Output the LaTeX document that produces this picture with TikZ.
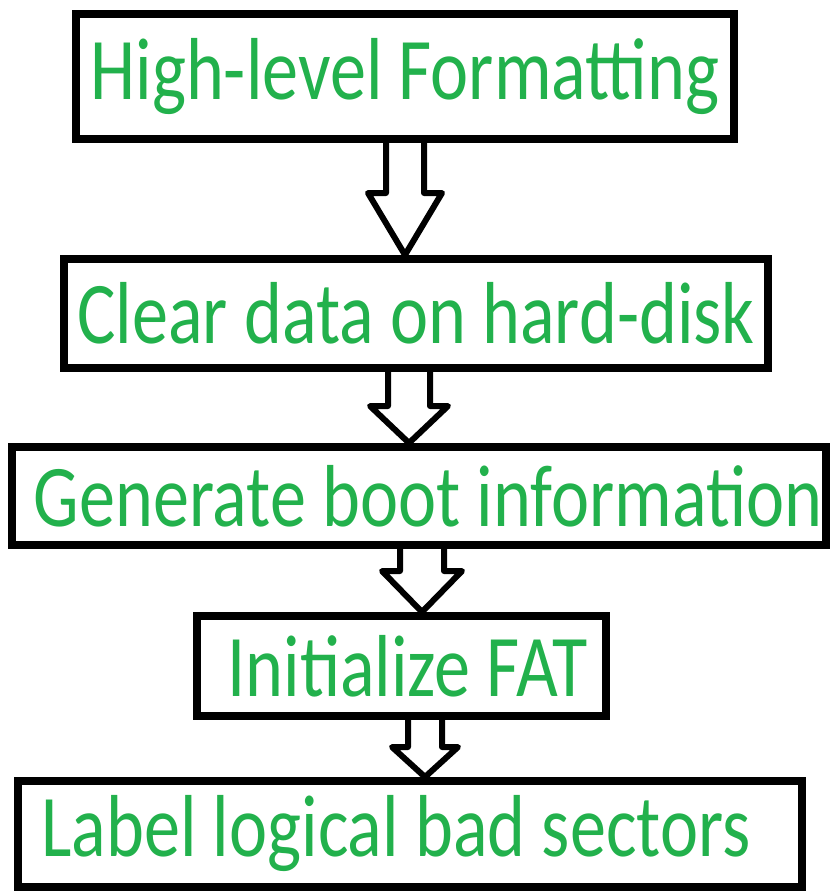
\documentclass[tikz,border=0pt]{standalone}
\usepackage{fontspec}
\setmainfont{Carlito}
\usepackage{xcolor}
\usetikzlibrary{calc}
\definecolor{paintgreen}{HTML}{22B14C}

\newcommand{\narrow}[1]{\scalebox{0.82}[1]{#1}}
% hollow block arrow: from, to, shaft half width, head half width, head length
\newcommand{\fatarrow}[5]{%
  \draw[fat] ($(#1)+(-#3,0)$) -- ($(#2)+(-#3,-#5)$) -- ($(#2)+(-#4,-#5)$) -- (#2)
    -- ($(#2)+(#4,-#5)$) -- ($(#2)+(#3,-#5)$) -- ($(#1)+(#3,0)$);}

\begin{document}
\begin{tikzpicture}[x=1pt, y=-1pt,
    main/.style = {draw, line width=8pt, rectangle, inner sep=0pt, text=paintgreen,
                   font=\fontsize{88}{96}\selectfont},
    fat/.style = {draw, line width=6pt, line join=round, fill=white}]
        \useasboundingbox (0,0) rectangle (840,894);

        \node[main, minimum width=658pt, minimum height=125pt] (1) at (405,76.5) {\narrow{High-level Formatting}};
        \node[main, minimum width=704pt, minimum height=109pt] (2) at (416,313.5) {\narrow{Clear data on hard-disk}};
        \node[main, minimum width=814pt, minimum height=98pt] (3) at (419,496) {\hspace*{18pt}\narrow{Generate boot information}};
        \node[main, minimum width=409pt, minimum height=100pt] (4) at (401.5,666) {\hspace*{12pt}\narrow{Initialize FAT}};
        \node[main, minimum width=784pt, minimum height=106pt] (5) at (410,834) {\narrow{Label logical bad sectors}\hspace*{28pt}};

        \coordinate (x1) at (405,0);
        \coordinate (x2) at (409,0);
        \coordinate (x3) at (422,0);
        \coordinate (x4) at (425,0);

        \fatarrow{1.south -| x1}{2.north -| x1}{19}{37}{62}
        \fatarrow{2.south -| x2}{3.north -| x2}{21}{39}{37}
        \fatarrow{3.south -| x3}{4.north -| x3}{22}{40}{41}
        \fatarrow{4.south -| x4}{5.north -| x4}{17}{33}{30}

    \end{tikzpicture}
\end{document}
